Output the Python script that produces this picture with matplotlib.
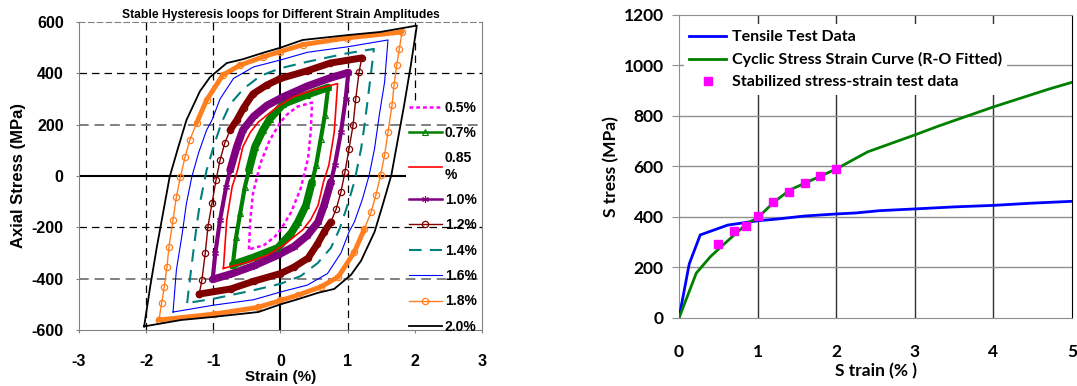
import numpy as np
import matplotlib
matplotlib.use("Agg")
import matplotlib.pyplot as plt

plt.rcParams["axes.unicode_minus"] = False

# ---- left chart: upper (loading) branch of each stable loop
# lower branch is the point reflection of the upper one
LOOP_05_STRAIN = [-0.47, -0.45, -0.41, -0.30, -0.16, -0.01, 0.09, 0.25, 0.47]
LOOP_05_STRESS = [-286, -171, -68, 49, 140, 206, 238, 270, 286]

LOOP_07_STRAIN = [-0.71, -0.66, -0.60, -0.53, -0.47, -0.38, -0.26, -0.16, 0.04, 0.39, 0.71]
LOOP_07_STRESS = [-345, -236, -145, -42, 23, 114, 179, 222, 280, 316, 345]

LOOP_085_STRAIN = [-0.85, -0.80, -0.72, -0.64, -0.56, -0.45, -0.33, -0.05, 0.19, 0.48, 0.85]
LOOP_085_STRESS = [-360, -171, -42, 23, 114, 170, 210, 269, 308, 335, 360]

LOOP_10_STRAIN = [-1.01, -0.97, -0.90, -0.81, -0.75, -0.65, -0.56, -0.40, -0.20, 0.04, 0.40, 0.74, 1.01]
LOOP_10_STRESS = [-403, -300, -171, -43, 23, 114, 179, 232, 275, 308, 350, 382, 403]

LOOP_12_STRAIN = [-1.21, -1.17, -1.12, -1.08, -1.02, -0.96, -0.90, -0.83, -0.75, -0.65, -0.55,
                  -0.41, -0.20, 0.00, 0.40, 0.74, 1.21]
LOOP_12_STRESS = [-460, -405, -300, -197, -106, -16, 62, 128, 179, 218, 265,
                  320, 355, 380, 410, 440, 460]

LOOP_14_STRAIN = [-1.39, -1.35, -1.30, -1.25, -1.20, -1.10, -0.98, -0.88, -0.75, -0.55, -0.30,
                  0.00, 0.40, 0.99, 1.39]
LOOP_14_STRESS = [-495, -405, -300, -197, -106, 23, 128, 206, 280, 340, 390,
                  420, 445, 478, 495]

LOOP_16_STRAIN = [-1.60, -1.55, -1.47, -1.40, -1.32, -1.22, -1.10, -1.02, -0.90, -0.70, -0.40,
                  0.00, 0.40, 0.99, 1.60]
LOOP_16_STRESS = [-530, -366, -236, -106, -3, 90, 179, 218, 300, 380, 425,
                  452, 482, 503, 530]

LOOP_18_STRAIN = [-1.81, -1.77, -1.73, -1.69, -1.66, -1.60, -1.55, -1.49, -1.42, -1.35, -1.25,
                  -1.10, -0.86, -0.60, -0.26, 0.00, 0.34, 0.99, 1.81]
LOOP_18_STRESS = [-561, -496, -431, -353, -275, -171, -81, -3, 75, 140, 206,
                  296, 393, 432, 464, 485, 512, 538, 561]

LOOP_20_STRAIN = [-2.03, -1.94, -1.84, -1.74, -1.65, -1.52, -1.40, -1.20, -1.05, -0.80, -0.56,
                  -0.26, 0.00, 0.33, 1.00, 1.48, 2.03]
LOOP_20_STRESS = [-586, -431, -275, -132, -3, 114, 218, 330, 385, 440, 455,
                  480, 500, 530, 549, 561, 586]

LOOP_LABELS = ["0.5%", "0.7%", "0.85\n%", "1.0%", "1.2%", "1.4%", "1.6%", "1.8%", "2.0%"]

# ---- right chart
TENSILE_STRAIN = [0, 0.13, 0.27, 0.62, 1.0, 1.25, 1.6, 2.0, 2.25, 2.55, 3.0, 3.5, 4.0, 4.5, 5.06]
TENSILE_STRESS = [0, 214, 329, 368, 385, 392, 404, 412, 416, 425, 432, 440, 446, 455, 463]

CYCLIC_STRAIN = [0, 0.22, 0.4, 0.56, 0.87, 1.0, 1.2, 1.41, 2.0, 2.4, 3.0, 3.3, 4.0, 4.7, 5.06]
CYCLIC_STRESS = [0, 178, 243, 289, 376, 396, 457, 507, 590, 658, 725, 760, 836, 906, 939]

STABLE_STRAIN = [0.5, 0.7, 0.85, 1.0, 1.2, 1.4, 1.6, 1.8, 2.0]
STABLE_STRESS = [293, 345, 364, 404, 460, 499, 534, 563, 590]


def branches(strain, stress):
    ux = np.asarray(strain, float)
    uy = np.asarray(stress, float)
    return (ux, uy), (-ux, -uy)


fig = plt.figure(figsize=(10.77, 3.86), dpi=100)

# ================= left: hysteresis loops =================
arial = "Liberation Sans"
ax = fig.add_axes([0.07335, 0.14508, 0.37419, 0.79793])
ax.set_xlim(-3, 3)
ax.set_ylim(-600, 600)

grid_kw = dict(color="black", lw=0.9, ls=(0, (6, 4)), zorder=1)
for gx in (-2, -1, 1):
    ax.axvline(gx, **grid_kw)
ax.axvline(2, ymin=0.747, **grid_kw)
ax.axhline(400, **grid_kw)
ax.axhline(-200, **grid_kw)
for gy in (200, -400):
    ax.axhline(gy, color="#808080", lw=1.4, ls=(0, (5, 3)), zorder=1)
ax.axhline(0, xmax=0.809, color="black", lw=1.5, zorder=1)
ax.axvline(0, color="black", lw=1.5, zorder=1)

# (style, index where the densely marked part of the branch starts, band width)
styles = [
    (dict(color="#FF00FF", ls=(0, (1.5, 1.2)), lw=1.8), None, 0),
    (dict(color="#008000", lw=3.0, marker="^", mfc="none", ms=4, mew=0.8), 4, 5.5),
    (dict(color="#FF0000", lw=1.2), None, 0),
    (dict(color="#800080", lw=3.0, marker=(6, 2, 0), ms=5, mew=0.8), 4, 5.5),
    (dict(color="#800000", lw=1.0, marker="o", mfc="none", ms=4.5, mew=0.9), 8, 5.0),
    (dict(color="#008080", lw=1.5, ls=(0, (6, 4))), None, 0),
    (dict(color="#0000FF", lw=0.8), None, 0),
    (dict(color="#FF7F1E", lw=1.0, marker="o", mfc="none", ms=4.5, mew=0.9), 10, 3.5),
    (dict(color="black", lw=1.3), None, 0),
]
loops = [
    (LOOP_05_STRAIN, LOOP_05_STRESS),
    (LOOP_07_STRAIN, LOOP_07_STRESS),
    (LOOP_085_STRAIN, LOOP_085_STRESS),
    (LOOP_10_STRAIN, LOOP_10_STRESS),
    (LOOP_12_STRAIN, LOOP_12_STRESS),
    (LOOP_14_STRAIN, LOOP_14_STRESS),
    (LOOP_16_STRAIN, LOOP_16_STRESS),
    (LOOP_18_STRAIN, LOOP_18_STRESS),
    (LOOP_20_STRAIN, LOOP_20_STRESS),
]
for (sx, sy), lab, (st, band, bw) in zip(loops, LOOP_LABELS, styles):
    (ux, uy), (lx, ly) = branches(sx, sy)
    ax.plot(np.concatenate([ux, lx[1:]]), np.concatenate([uy, ly[1:]]),
            label=lab, zorder=3, **st)
    if band is not None:
        for bx, by in ((ux, uy), (lx, ly)):
            ax.plot(bx[band:], by[band:], color=st["color"], lw=bw,
                    solid_capstyle="round", solid_joinstyle="round", zorder=2.9)

for side in ("left", "right", "bottom"):
    ax.spines[side].set_color("#808080")
ax.spines["top"].set_color("#808080")
ax.spines["top"].set_linestyle((0, (5, 3)))

ax.set_xticks(range(-3, 4))
ax.set_yticks(range(-600, 601, 200))
ax.tick_params(axis="both", length=2, color="#808080", labelsize=11.5)
ax.tick_params(axis="x", pad=15)
ax.tick_params(axis="y", pad=9)
for t in ax.get_xticklabels() + ax.get_yticklabels():
    t.set_fontfamily(arial)
    t.set_fontweight("bold")

ax.set_xlabel("Strain (%)", fontfamily=arial, fontweight="bold", fontsize=11, labelpad=1)
ax.set_ylabel("Axial Stress (MPa)", fontfamily=arial, fontweight="bold", fontsize=12, labelpad=4)
ax.set_title("Stable Hysteresis loops for Different Strain Amplitudes",
             fontfamily=arial, fontweight="bold", fontsize=8.7, pad=3)

leg = ax.legend(loc="upper left", bbox_to_anchor=(0.818, 0.745), frameon=False,
                prop=dict(family=arial, weight="bold", size=10),
                handlelength=2.4, handletextpad=0.2, labelspacing=0.82,
                borderpad=0, borderaxespad=0, numpoints=1)
for h in leg.get_lines():
    h.set_linewidth(min(h.get_linewidth(), 1.8))

# ================= right: cyclic vs tensile =================
lato = "Lato"
ax2 = fig.add_axes([0.63046, 0.17617, 0.36490, 0.78497])
ax2.set_xlim(0, 5)
ax2.set_ylim(0, 1200)
for gx in (1, 2, 3, 4):
    ax2.axvline(gx, color="#303030", lw=1.0, zorder=1)
for gy in (200, 400, 600, 800, 1000):
    ax2.axhline(gy, color="#909090", lw=1.0, zorder=1)

ax2.plot(TENSILE_STRAIN, TENSILE_STRESS, color="#0000FF", lw=2, label="Tensile Test Data", zorder=3)
ax2.plot(CYCLIC_STRAIN, CYCLIC_STRESS, color="#008000", lw=2,
         label="Cyclic Stress Strain Curve (R-O Fitted)", zorder=3)
ax2.plot(STABLE_STRAIN, STABLE_STRESS, ls="none", marker="s", ms=5.5, color="#FF00FF",
         label="Stabilized stress-strain test data", zorder=4)

for side in ("left", "bottom", "top"):
    ax2.spines[side].set_color("#909090")
ax2.spines["right"].set_color("black")
ax2.set_xticks(range(0, 6))
ax2.set_yticks(range(0, 1201, 200))
ax2.tick_params(axis="y", length=5, color="#909090", labelsize=12.5, pad=6)
ax2.tick_params(axis="x", length=0, labelsize=12.5, pad=19)
for t in ax2.get_xticklabels() + ax2.get_yticklabels():
    t.set_fontfamily(lato)
    t.set_fontweight("bold")
ax2.set_xlabel("S train (% )", fontfamily=lato, fontweight="bold", fontsize=12.5, labelpad=2)
ax2.set_ylabel("S tress (MPa)", fontfamily=lato, fontweight="bold", fontsize=12.5, labelpad=3)

leg2 = ax2.legend(loc="upper left", bbox_to_anchor=(0.0, 0.985), frameon=True,
                  prop=dict(family=lato, weight="bold", size=11.5),
                  handlelength=2.3, handletextpad=0.35, labelspacing=0.5,
                  borderpad=0.35, borderaxespad=0.3, numpoints=1)
leg2.get_frame().set_facecolor("white")
leg2.get_frame().set_edgecolor("none")
leg2.get_frame().set_alpha(1)

fig.savefig("out.png", dpi=100)
